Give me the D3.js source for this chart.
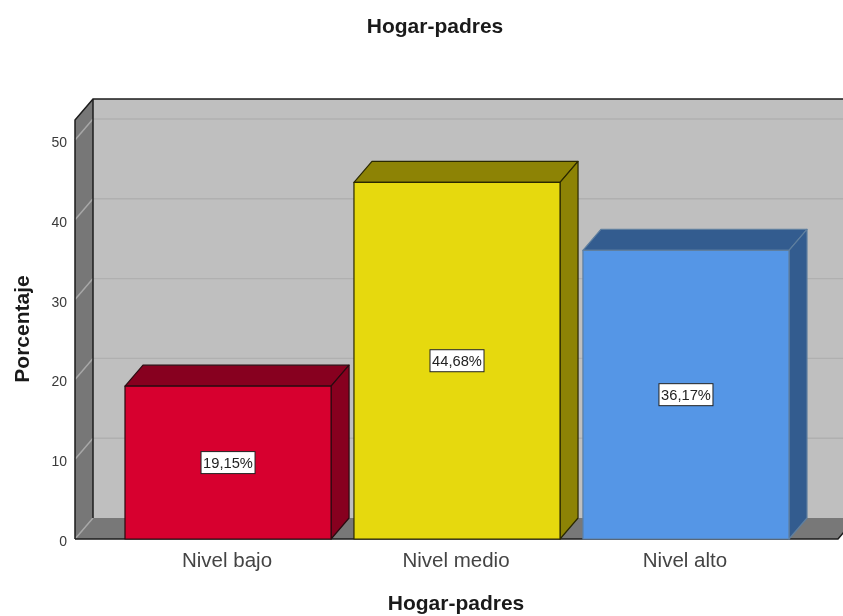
<!DOCTYPE html>
<html><head><meta charset="utf-8">
<script src="https://cdn.jsdelivr.net/npm/d3@7/dist/d3.min.js"></script>
<style>html,body{margin:0;padding:0;background:#fff;overflow:hidden}svg{display:block;filter:blur(0.5px)}text{font-family:"Liberation Sans",Arial,sans-serif}</style>
</head><body><svg id="c" width="843" height="616"></svg>
<script>
const chartTitle = "Hogar-padres";
const xTitle = "Hogar-padres";
const yTitle = "Porcentaje";
const categories = ["Nivel bajo", "Nivel medio", "Nivel alto"];
const values = [19.15, 44.68, 36.17];
const valueLabels = ["19,15%", "44,68%", "36,17%"];
const yTicks = [0, 10, 20, 30, 40, 50];
const faceColors = ["#d7002f", "#e6d90e", "#5596e6"];
const sideColors = ["#87001f", "#8d8305", "#335c8f"];
const edgeColors = ["#2a0a10", "#2a2800", "#5f7f9f"];

const svg = d3.select("#c");
const dx = 18, dy = -21;
const y = d3.scaleLinear().domain([0, 50]).range([539, 140]);
const x = d3.scaleBand().domain(categories).range([113.55, 800.45]).paddingInner(0.1).paddingOuter(0.05);
const left = 75, right = 838, y0 = y(0), yTop = 120;
const poly = pts => pts.map(p => p.join(",")).join(" ");

// walls
svg.append("polygon").attr("points", poly([[left+dx,yTop+dy],[right+dx+20,yTop+dy],[right+dx+20,y0+dy],[left+dx,y0+dy]])).attr("fill","#bfbfbf");
svg.append("polygon").attr("points", poly([[left,yTop],[left+dx,yTop+dy],[left+dx,y0+dy],[left,y0]])).attr("fill","#777777");
svg.append("polygon").attr("points", poly([[left,y0],[left+dx,y0+dy],[right+dx,y0+dy],[right,y0]])).attr("fill","#787878");

// gridlines
const g = svg.append("g");
g.selectAll("line.back").data(yTicks.filter(d=>d>0)).join("line").attr("class","back")
  .attr("x1",left+dx).attr("x2",843).attr("y1",d=>y(d)+dy).attr("y2",d=>y(d)+dy)
  .attr("stroke","#b0b0b0").attr("stroke-width",1.4);
g.selectAll("line.side").data(yTicks).join("line").attr("class","side")
  .attr("x1",left).attr("x2",left+dx).attr("y1",d=>y(d)).attr("y2",d=>y(d)+dy)
  .attr("stroke","#a8a8a8").attr("stroke-width",1.5);

// frame
const frame = svg.append("g").attr("fill","none").attr("stroke","#1c1c1c").attr("stroke-width",1.5);
frame.append("path").attr("d",d3.line()([[left,y0],[left,yTop],[left+dx,yTop+dy],[843,yTop+dy]]));
frame.append("path").attr("d",d3.line()([[left+dx,yTop+dy],[left+dx,y0+dy]]));
frame.append("path").attr("d",d3.line()([[left,y0],[right,y0],[right+6,y0-7]]));

// bars
const bars = svg.append("g").selectAll("g").data(categories).join("g");
bars.each(function(c,i){
  const b = d3.select(this), x0 = x(c), x1 = x0 + x.bandwidth(), t = y(values[i]);
  const st = {stroke:edgeColors[i],"stroke-width":1.2,"stroke-linejoin":"round"};
  const add = (pts,fill) => { const s=b.append("polygon").attr("points",poly(pts)).attr("fill",fill); for(const k in st) s.attr(k,st[k]); };
  add([[x0,t],[x0+dx,t+dy],[x1+dx,t+dy],[x1,t]], sideColors[i]);
  add([[x1,t],[x1+dx,t+dy],[x1+dx,y0+dy],[x1,y0]], sideColors[i]);
  add([[x0,t],[x1,t],[x1,y0],[x0,y0]], faceColors[i]);
  const cx=(x0+x1)/2, cy=(t+y0)/2;
  b.append("rect").attr("x",cx-27).attr("y",cy-11).attr("width",54).attr("height",22).attr("fill","#fff").attr("stroke","#222").attr("stroke-width",1);
  b.append("text").attr("x",cx).attr("y",cy+5.5).attr("text-anchor","middle").attr("font-size",14.7).attr("fill","#222").text(valueLabels[i]);
});

// y tick labels
svg.append("g").selectAll("text").data(yTicks).join("text")
  .attr("x",67).attr("y",d=>y(d)+7).attr("text-anchor","end").attr("font-size",14).attr("fill","#3a3a3a").text(d=>d);
// category labels
svg.append("g").selectAll("text").data(categories).join("text")
  .attr("x",c=>x(c)+x.bandwidth()/2-1).attr("y",567).attr("text-anchor","middle").attr("font-size",20.5).attr("fill","#444").text(c=>c);
// titles
svg.append("text").attr("x",435).attr("y",33).attr("text-anchor","middle").attr("font-size",21).attr("font-weight","bold").attr("fill","#1a1a1a").text(chartTitle);
svg.append("text").attr("x",456).attr("y",610).attr("text-anchor","middle").attr("font-size",21).attr("font-weight","bold").attr("fill","#1a1a1a").text(xTitle);
svg.append("text").attr("transform","translate(29,329) rotate(-90)").attr("text-anchor","middle").attr("font-size",21).attr("font-weight","bold").attr("fill","#1a1a1a").text(yTitle);
</script></body></html>
